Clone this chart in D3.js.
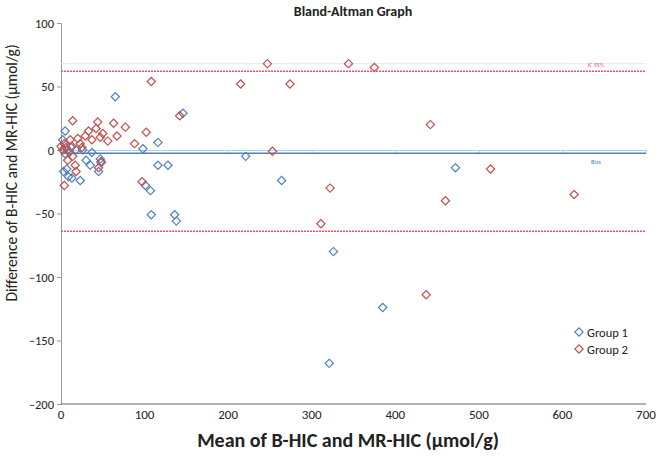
<!DOCTYPE html>
<html><head><meta charset="utf-8">
<script src="https://cdn.jsdelivr.net/npm/d3@7"></script>
<style>body{margin:0;background:#fff}svg{display:block}</style>
</head><body>
<svg id="c" width="662" height="456"></svg>
<script>
const xTicks = [0,100,200,300,400,500,600,700];
const yTicks = [100,50,0,-50,-100,-150,-200];
const group1 = [[5,15],[2,8],[8,0],[18,0],[26,0],[37,-2],[47,-7],[48,-10],[35,-12],[45,-17],[7,-15],[3,-17],[9,-21],[23,-24],[13,-22],[30,-8],[65,42],[116,6],[98,1],[116,-12],[128,-12],[101,-28],[107,-32],[108,-51],[136,-51],[138,-56],[146,29],[221,-5],[264,-24],[326,-80],[385,-124],[321,-168],[472,-14],[5,-3],[12,2]];
const group2 = [[14,23],[44,22],[63,21],[77,18],[102,14],[88,5],[33,15],[42,17],[50,13],[29,11],[20,9],[11,8],[4,5],[0,3],[6,2],[13,3],[23,5],[37,8],[47,10],[56,7],[67,11],[8,-8],[14,-5],[17,-12],[18,-17],[4,-28],[48,-9],[45,-14],[10,-2],[2,0],[25,2],[108,54],[142,27],[97,-25],[215,52],[247,68],[274,52],[253,-1],[322,-30],[311,-58],[344,68],[375,65],[442,20],[437,-114],[460,-40],[514,-15],[614,-35]];
const upperLoA = 62, lowerLoA = -64, bias = -2.5;
const seriesNames = ["Group 1","Group 2"];

const svg = d3.select("#c");
const x = d3.scaleLinear().domain([0,700]).range([61,646]);
const y = d3.scaleLinear().domain([-200,100]).range([404,23]);
const font = "Carlito, Lato, 'Open Sans', sans-serif";
const blue = "#4f81bd", red = "#c0504d", pink = "#f0506c";

// y axis
const ya = svg.append("g").attr("transform","translate(61,0)")
  .call(d3.axisLeft(y).tickValues(yTicks).tickSize(4).tickPadding(3));
ya.select(".domain").attr("stroke","#999");
ya.selectAll(".tick line").attr("stroke","#999");
ya.selectAll("text").attr("font-family",font).attr("font-size",12.5).attr("fill","#222");

// x axis line at y=0 (light)
const xa = svg.append("g").attr("transform",`translate(0,${y(0)})`)
  .call(d3.axisBottom(x).tickValues(xTicks).tickSize(3).tickFormat(""));
xa.select(".domain").attr("stroke","#b8cde0");
xa.selectAll(".tick line").attr("stroke","#b8cde0");
// bottom line
svg.append("line").attr("x1",x(0)).attr("x2",x(700)).attr("y1",y(-200)).attr("y2",y(-200)).attr("stroke","#666").attr("stroke-width",1);
// x tick labels at bottom
svg.append("g").selectAll("text").data(xTicks).join("text")
  .attr("x",d=>x(d)).attr("y",419).attr("text-anchor","middle")
  .attr("font-family",font).attr("font-size",13).attr("fill","#222").text(d=>d);

// reference lines
svg.append("line").attr("x1",x(0)).attr("x2",x(700)).attr("y1",y(upperLoA+6)).attr("y2",y(upperLoA+6)).attr("stroke","#e3edf7").attr("stroke-width",1);
svg.append("line").attr("x1",x(0)).attr("x2",x(700)).attr("y1",y(bias)).attr("y2",y(bias)).attr("stroke",blue).attr("stroke-width",1.5);
[upperLoA,lowerLoA].forEach(v=>{
  svg.append("line").attr("x1",x(0)).attr("x2",x(700)).attr("y1",y(v)).attr("y2",y(v))
    .attr("stroke",pink).attr("stroke-width",1.5).attr("stroke-dasharray","2,1");
});
svg.append("text").attr("x",x(640)).attr("y",y(upperLoA)-4).attr("text-anchor","middle")
  .attr("font-family",font).attr("font-size",6).attr("fill",pink).text("IC 95%");
svg.append("text").attr("x",x(640)).attr("y",y(bias)+11).attr("text-anchor","middle")
  .attr("font-family",font).attr("font-size",6).attr("fill",blue).text("Bias");

// points
const sym = d3.symbol().type(d3.symbolSquare).size(34);
function pts(data,color){
  svg.append("g").selectAll("path").data(data).join("path")
    .attr("d",sym).attr("transform",d=>`translate(${x(d[0])},${y(d[1])}) rotate(45)`)
    .attr("fill","none").attr("stroke",color).attr("stroke-width",1.2);
}
pts(group1,blue);
pts(group2,red);

// legend
[[blue,seriesNames[0]],[red,seriesNames[1]]].forEach((d,i)=>{
  const yy = 332 + i*17;
  svg.append("path").attr("d",sym).attr("transform",`translate(579,${yy}) rotate(45)`)
    .attr("fill","none").attr("stroke",d[0]).attr("stroke-width",1.2);
  svg.append("text").attr("x",587).attr("y",yy+4.5).attr("font-family",font).attr("font-size",12.5).attr("fill","#222").text(d[1]);
});

// titles
svg.append("text").attr("x",353).attr("y",16).attr("text-anchor","middle")
  .attr("font-family",font).attr("font-size",14).attr("font-weight","bold").attr("fill","#222").text("Bland-Altman  Graph");
svg.append("text").attr("x",348).attr("y",447).attr("text-anchor","middle")
  .attr("font-family",font).attr("font-size",20).attr("font-weight","bold").attr("fill","#222").text("Mean of B-HIC and  MR-HIC (µmol/g)");
svg.append("text").attr("transform","translate(17,173) rotate(-90)").attr("text-anchor","middle")
  .attr("font-family",font).attr("font-size",15.5).attr("fill","#222").text("Difference of B-HIC and MR-HIC (µmol/g)");
</script>
</body></html>
